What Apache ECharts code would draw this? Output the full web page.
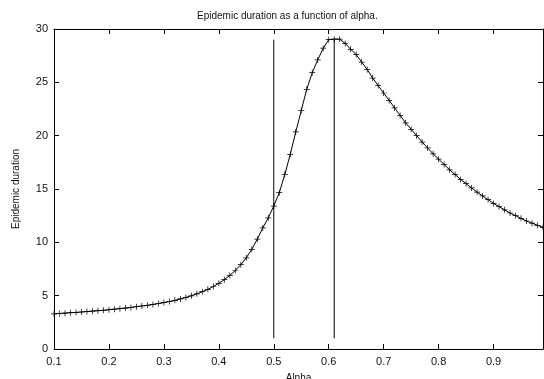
<!DOCTYPE html>
<html>
  <head>
    <meta charset="utf-8">
    <title>Epidemic duration as a function of alpha</title>
    <script src="https://cdn.jsdelivr.net/npm/echarts@6/dist/echarts.min.js"></script>
    <style>
    html, body { margin: 0; padding: 0; background: #fff; }
    #chart { width: 544px; height: 379px; }
    </style>
  </head>
  <body>
    <div id="chart"></div>
    <script>
      // alpha values, step 0.01
      var alpha = [];
      for (var i = 10; i <= 99; i++) alpha.push(i / 100);

      var duration = [
        3.30, 3.33, 3.36, 3.40, 3.43, 3.47, 3.51, 3.55, 3.59, 3.63,
        3.68, 3.73, 3.78, 3.84, 3.90, 3.96, 4.03, 4.10, 4.18, 4.26,
        4.35, 4.45, 4.56, 4.69, 4.83, 4.99, 5.17, 5.37, 5.60, 5.86,
        6.16, 6.50, 6.90, 7.36, 7.90, 8.55, 9.35, 10.30, 11.35, 12.30,
        13.40, 14.65, 16.35, 18.25, 20.35, 22.35, 24.35, 25.90, 27.10, 28.20,
        29.00, 29.05, 29.05, 28.65, 28.10, 27.60, 26.90, 26.20, 25.40, 24.70,
        24.00, 23.30, 22.60, 21.90, 21.20, 20.60, 20.00, 19.40, 18.85, 18.30,
        17.80, 17.30, 16.80, 16.35, 15.90, 15.50, 15.10, 14.70, 14.35, 14.00,
        13.65, 13.35, 13.05, 12.75, 12.50, 12.25, 12.00, 11.80, 11.60, 11.40
      ];

      // vertical marker lines
      var markX = [0.5, 0.61];
      var markY = [1, 29];

      var xTicks = [0.1, 0.2, 0.3, 0.4, 0.5, 0.6, 0.7, 0.8, 0.9];
      var yTicks = [0, 5, 10, 15, 20, 25, 30];

      var seriesData = alpha.map(function (a, i) { return [a, duration[i]]; });

      var plus = 'path://M0,4.4H10V5.6H0Z M4.4,0H5.6V10H4.4Z';
      var font = 'Liberation Sans, Arial, Helvetica, sans-serif';

      function frameX(pos, show) {
        return {
          type: 'value', position: pos, min: 0.1, max: 0.99,
          name: show ? 'Alpha' : '', nameLocation: 'middle', nameGap: 24,
          nameTextStyle: { color: '#111', fontSize: 10, fontFamily: font },
          axisLine: { onZero: false, lineStyle: { color: '#000', width: 1 } },
          axisTick: { show: true, inside: true, length: 5, customValues: xTicks, lineStyle: { color: '#000' } },
          axisLabel: { show: show, customValues: xTicks, color: '#111', fontSize: 11, fontFamily: font, margin: 7,
            formatter: function (v) { return v.toFixed(1); } },
          splitLine: { show: false }
        };
      }
      function frameY(pos, show) {
        return {
          type: 'value', position: pos, min: 0, max: 30, interval: 5,
          name: show ? 'Epidemic duration' : '', nameLocation: 'middle', nameGap: 33,
          nameTextStyle: { color: '#111', fontSize: 10, fontFamily: font },
          axisLine: { onZero: false, lineStyle: { color: '#000', width: 1 } },
          axisTick: { show: true, inside: true, length: 5, lineStyle: { color: '#000' } },
          axisLabel: { show: show, customValues: yTicks, color: '#111', fontSize: 11, fontFamily: font, margin: 6 },
          splitLine: { show: false }
        };
      }

      var chart = echarts.init(document.getElementById('chart'));
      var option = {
        animation: false,
        backgroundColor: '#fff',
        title: {
          text: 'Epidemic duration as a function of alpha.',
          left: 192, top: 6,
          textStyle: { color: '#111', fontSize: 10, fontWeight: 'normal', fontFamily: font }
        },
        grid: { left: 54, right: 1, top: 29, bottom: 30, outerBoundsMode: 'none', containLabel: false },
        xAxis: [frameX('bottom', true), frameX('top', false)],
        yAxis: [frameY('left', true), frameY('right', false)],
        series: [
          {
            type: 'line',
            data: seriesData,
            symbol: plus,
            symbolSize: 6,
            showAllSymbol: true,
            itemStyle: { color: '#000' },
            lineStyle: { color: '#000', width: 1 },
            clip: false
          },
          {
            type: 'line', symbol: 'none',
            data: [[markX[0], markY[0]], [markX[0], markY[1]]],
            lineStyle: { color: '#000', width: 1 }
          },
          {
            type: 'line', symbol: 'none',
            data: [[markX[1], markY[0]], [markX[1], markY[1]]],
            lineStyle: { color: '#000', width: 1 }
          }
        ]
      };
      chart.setOption(option);
    </script>
  </body>
</html>
